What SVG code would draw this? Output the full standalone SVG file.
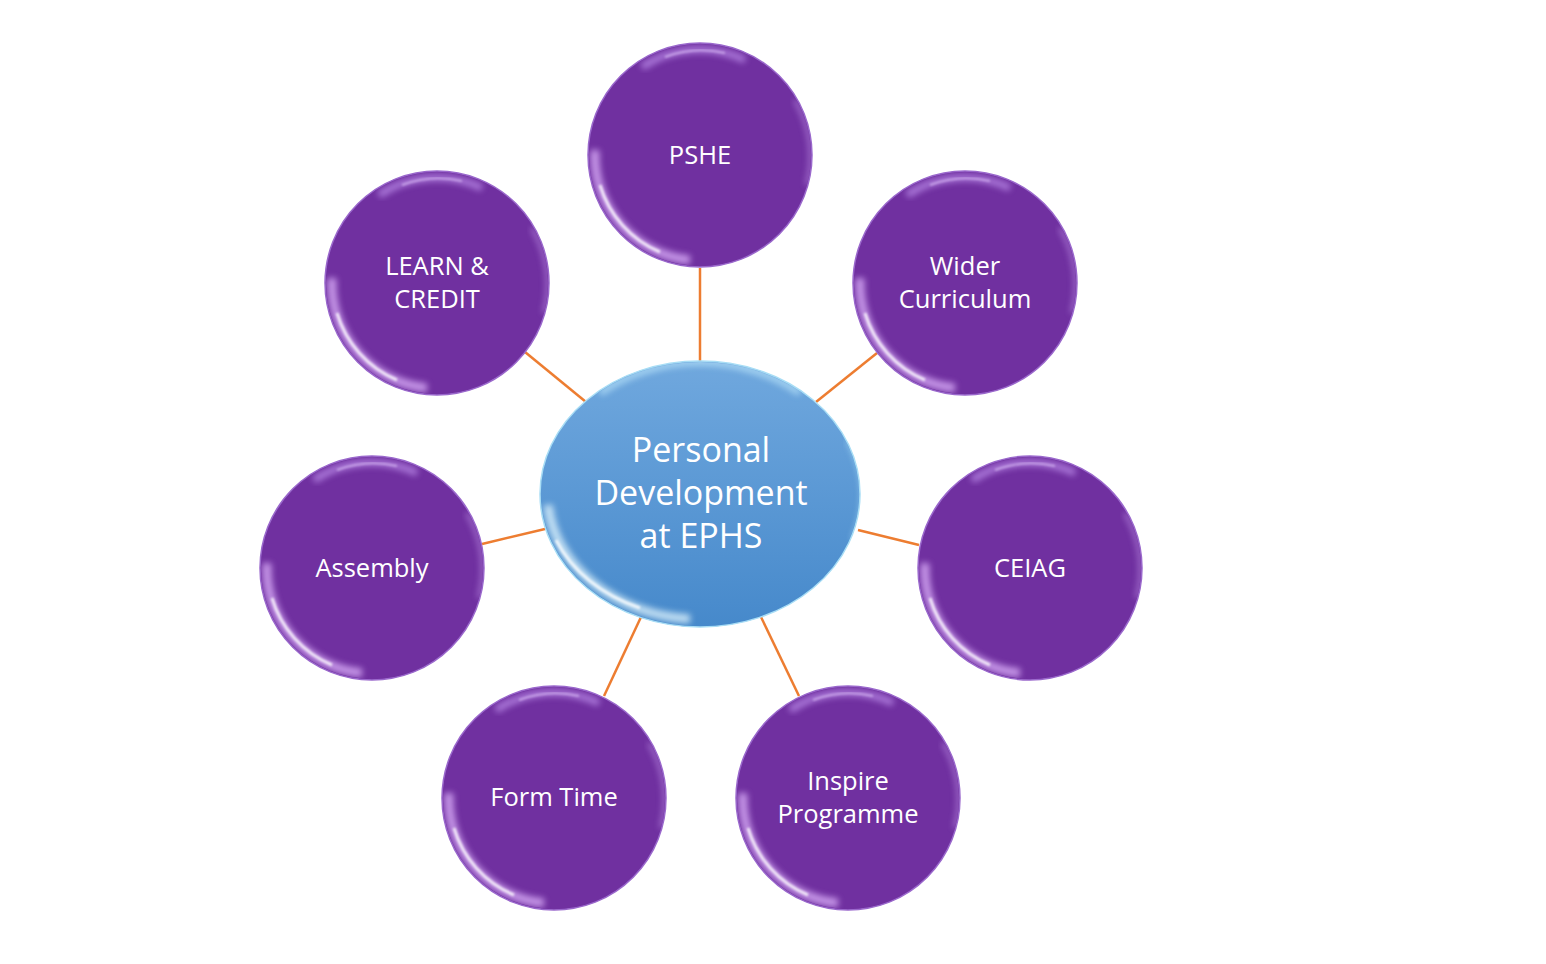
<svg xmlns="http://www.w3.org/2000/svg" xmlns:xlink="http://www.w3.org/1999/xlink" width="1546" height="964" viewBox="0 0 1546 964">
<style>
.lbl{font-family:"Open Sans","Noto Sans","Liberation Sans",sans-serif;fill:#ffffff;text-anchor:middle;font-size:25.5px}
.ctr{font-size:34px}
.conn line{stroke:#ED7D31;stroke-width:2.5}
</style>
<defs>
<filter id="blur" x="-20%" y="-20%" width="140%" height="140%"><feGaussianBlur stdDeviation="1.2"/></filter>
<filter id="soft" x="-30%" y="-30%" width="160%" height="160%"><feGaussianBlur stdDeviation="3"/></filter>
<clipPath id="cc"><circle r="111"/></clipPath>
<clipPath id="ec"><ellipse cx="700" cy="494" rx="159" ry="132"/></clipPath>
<linearGradient id="blue" x1="0" y1="0" x2="0" y2="1">
<stop offset="0" stop-color="#70A8DE"/>
<stop offset="1" stop-color="#4689CB"/>
</linearGradient>
<g id="ball">
<circle r="112" fill="#7030A0" stroke="#9A68CC" stroke-width="1.5"/>
<g clip-path="url(#cc)">
<path d="M -10 105 A 105 105 0 0 1 -105 -5" fill="none" stroke="#E2B8FF" stroke-width="9" opacity="0.75" filter="url(#soft)"/>
<path d="M -40 97 A 105 105 0 0 1 -100 30" fill="none" stroke="#FFFFFF" stroke-width="3" opacity="0.8" filter="url(#blur)"/>
<path d="M -58 -88 A 105 105 0 0 1 45 -95" fill="none" stroke="#D2A8FF" stroke-width="7" opacity="0.6" filter="url(#soft)"/>
<path d="M -35 -98 A 105 105 0 0 1 25 -102" fill="none" stroke="#E8D0FF" stroke-width="2" opacity="0.6" filter="url(#blur)"/>
<path d="M 95 -55 A 108 108 0 0 1 107 30" fill="none" stroke="#C9A0F0" stroke-width="4" opacity="0.6" filter="url(#soft)"/>
</g>
</g>
</defs>
<rect width="1546" height="964" fill="#ffffff"/>
<g id="connectors" class="conn">
<line x1="700" y1="268" x2="700" y2="362"/>
<line x1="525" y1="352" x2="586" y2="402"/>
<line x1="877" y1="353" x2="816" y2="402"/>
<line x1="482" y1="544" x2="545" y2="529"/>
<line x1="858" y1="530" x2="919" y2="545"/>
<line x1="641" y1="617" x2="604" y2="696"/>
<line x1="761" y1="617" x2="799" y2="696"/>
</g>
<g id="center">
<ellipse cx="700" cy="494" rx="160" ry="133" fill="url(#blue)" stroke="#A8DDF5" stroke-width="1.5"/>
<g clip-path="url(#ec)">
<path d="M 600 393 A 153 126 0 0 1 800 393" fill="none" stroke="#C8F0FF" stroke-width="7" opacity="0.6" filter="url(#soft)"/>
<path d="M 690 619 A 153 126 0 0 1 548 505" fill="none" stroke="#E8FAFF" stroke-width="9" opacity="0.75" filter="url(#soft)"/>
<path d="M 640 608 A 153 126 0 0 1 556 540" fill="none" stroke="#FFFFFF" stroke-width="3" opacity="0.8" filter="url(#blur)"/>
<path d="M 848 440 A 156 129 0 0 1 853 540" fill="none" stroke="#B8ECFF" stroke-width="4" opacity="0.7" filter="url(#soft)"/>
</g>
<text class="lbl ctr" x="701" y="462">Personal</text>
<text class="lbl ctr" x="701" y="505">Development</text>
<text class="lbl ctr" x="701" y="548">at EPHS</text>
</g>
<g id="pshe"><use xlink:href="#ball" x="700" y="155"/><text class="lbl" x="700" y="164">PSHE</text></g>
<g id="learn"><use xlink:href="#ball" x="437" y="283"/><text class="lbl" x="437" y="275">LEARN &amp;</text><text class="lbl" x="437" y="308">CREDIT</text></g>
<g id="wider"><use xlink:href="#ball" x="965" y="283"/><text class="lbl" x="965" y="275">Wider</text><text class="lbl" x="965" y="308">Curriculum</text></g>
<g id="assembly"><use xlink:href="#ball" x="372" y="568"/><text class="lbl" x="372" y="577">Assembly</text></g>
<g id="ceiag"><use xlink:href="#ball" x="1030" y="568"/><text class="lbl" x="1030" y="577">CEIAG</text></g>
<g id="formtime"><use xlink:href="#ball" x="554" y="798"/><text class="lbl" x="554" y="806">Form Time</text></g>
<g id="inspire"><use xlink:href="#ball" x="848" y="798"/><text class="lbl" x="848" y="790">Inspire</text><text class="lbl" x="848" y="823">Programme</text></g>
</svg>
